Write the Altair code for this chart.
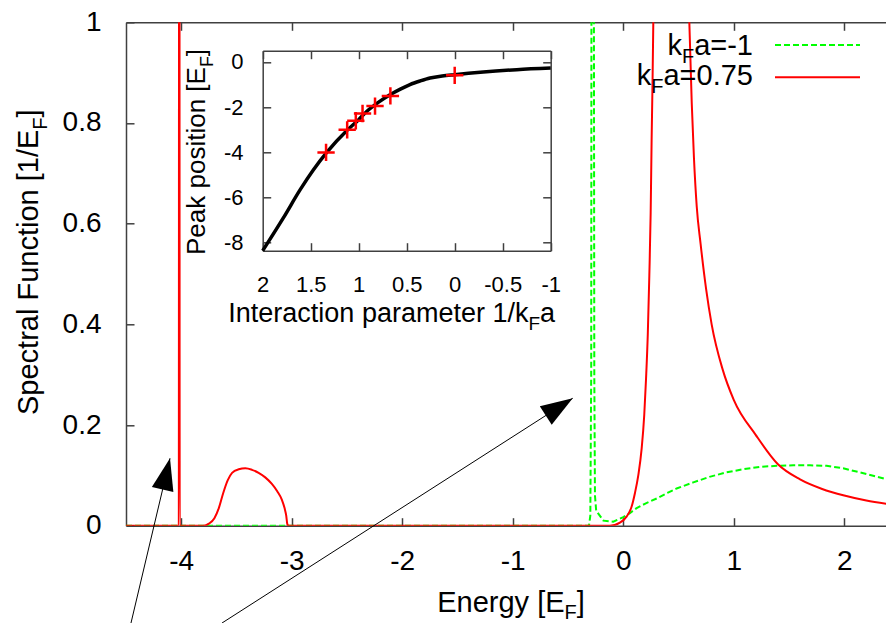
import math
import altair as alt
import pandas as pd

# ---------------- data ----------------
# main panel: spectral function, k_F a = 0.75 (red, solid)
E_red = [-4.5, -4.022, -4.018, -4.014, -3.80, -3.75, -3.70, -3.66, -3.62, -3.58,
         -3.54, -3.48, -3.42, -3.36, -3.30, -3.24, -3.18, -3.13, -3.09, -3.065,
         -3.05, -3.04, -3.03, -0.12, -0.03, 0.03, 0.076, 0.106, 0.136, 0.167,
         0.19, 0.206, 0.222, 0.236, 0.248, 0.257, 0.265, 0.272, 0.29, 0.43,
         0.57, 0.598, 0.62, 0.64, 0.665, 0.70, 0.75, 0.80, 0.90, 1.0,
         1.2, 1.4, 1.6, 1.8, 2.0, 2.2, 2.4]
A_red = [0, 0, 3.0, 0, 0.0, 0.004, 0.015, 0.035, 0.065, 0.09,
         0.105, 0.112, 0.114, 0.111, 0.105, 0.096, 0.083, 0.068, 0.052, 0.035,
         0.02, 0.003, 0, 0, 0.006, 0.018, 0.038, 0.065, 0.10, 0.154,
         0.22, 0.291, 0.38, 0.497, 0.62, 0.77, 0.88, 1.0, 1.5, 3.5,
         1.3, 1.0, 0.839, 0.73, 0.634, 0.56, 0.47, 0.40, 0.31, 0.25,
         0.18, 0.122, 0.092, 0.073, 0.060, 0.050, 0.043]
# k_F a = -1 (green, dashed)
E_green = [-4.5, -0.31, -0.298, -0.29, -0.285, -0.27, -0.262, -0.256, -0.245, -0.18,
           -0.09, 0.0, 0.06, 0.121, 0.2, 0.302, 0.4, 0.483, 0.634, 0.78,
           0.935, 1.08, 1.237, 1.39, 1.539, 1.69, 1.84, 1.99, 2.14, 2.3, 2.447]
A_green = [0, 0, 0.02, 0.3, 2.0, 2.0, 0.3, 0.06, 0.03, 0.01,
           0.008, 0.017, 0.025, 0.035, 0.044, 0.054, 0.065, 0.074, 0.086, 0.097,
           0.106, 0.112, 0.117, 0.119, 0.12, 0.12, 0.119, 0.114, 0.106, 0.097, 0.089]

# inset: peak position vs 1/k_F a
inv_kfa = [2.0, 1.785, 1.611, 1.473, 1.333, 1.115, 1.0, 0.917, 0.8, 0.674,
           0.566, 0.466, 0.36, 0.257, 0.13, 0.004, -0.298, -0.646, -1.0]
peak_pos = [-8.35, -6.9, -5.66, -4.78, -4.0, -3.0, -2.55, -2.19, -1.8, -1.45,
            -1.2, -1.0, -0.84, -0.71, -0.62, -0.56, -0.44, -0.34, -0.27]
mark_inv = [1.34, 1.12, 1.03, 0.96, 0.83, 0.67, 0.0]
mark_peak = [-4.0, -3.0, -2.6, -2.28, -1.95, -1.5, -0.59]

main_xticks = [-4, -3, -2, -1, 0, 1, 2]
main_yticks = [0, 0.2, 0.4, 0.6, 0.8, 1]
inset_xticks = [2, 1.5, 1, 0.5, 0, -0.5, -1]
inset_yticks = [0, -2, -4, -6, -8]

# annotation arrows (tail -> tip) in main-panel data units
arrow_E = [-4.4548, -3.6312]
arrow_A = [-0.1933, -0.1933]
arrow_E2 = [-4.1018, -0.4575]
arrow_A2 = [0.1339, 0.2531]

legend_tail = ["a=-1", "a=0.75"]

# ---------------- layout ----------------
FONT = "Liberation Sans"
AX = "#404040"
SX = 110.5                      # px per energy unit
W, H = 760.0, 503.4
PX0, PY0 = 126.0, 22.3          # page position of plot origin
XMIN = -4.5
XMAX = XMIN + W / SX
SY = H / 1.0
SVG_H = 615.0

AW = {' ': 278, '-': 333, '.': 278, '/': 278, '=': 584, '[': 278, ']': 278,
      'E': 667, 'F': 611, 'I': 278, 'P': 667, 'S': 667, 'a': 556, 'c': 500, 'e': 556,
      'g': 556, 'h': 556, 'i': 222, 'k': 500, 'l': 222, 'm': 833, 'n': 556, 'o': 556,
      'p': 556, 'r': 333, 's': 500, 't': 278, 'u': 556, 'y': 500}
for d in "0123456789":
    AW[d] = 556


def tw(s, size):
    return sum(AW.get(c, 556) for c in s) * size / 1000.0


def axis(orient, values, offset=0, labels=True, pad=0, size=28, baseline=None, tick=8):
    kw = dict(orient=orient, values=values, offset=offset, labels=labels,
              tickSize=alt.ExprRef(expr=f"-{tick}"), ticks=True, domain=True, grid=False,
              title=None, labelFlush=False, labelOverlap=False, labelBound=False,
              labelFont=FONT, labelFontSize=size, labelColor="black", labelPadding=pad,
              labelExpr="'' + datum.value", domainColor=AX, tickColor=AX,
              domainWidth=1.5, tickWidth=1.5)
    if baseline:
        kw["labelBaseline"] = baseline
    return alt.Axis(**kw)


mx = alt.Scale(domain=[XMIN, XMAX], nice=False, zero=False)
my = alt.Scale(domain=[0, 1], nice=False, zero=False)
ax_x = axis("bottom", main_xticks, pad=51.6, baseline="alphabetic")
ax_y = axis("left", main_yticks, pad=33)

# inset geometry (view coordinates)
IX0, IX1 = 262.7 - PX0, 550.7 - PX0
IY0, IY1 = 250.7 - PY0, 50.7 - PY0
ix = alt.Scale(domain=[-1, 2], range=[IX1, IX0], nice=False, zero=False)
iy = alt.Scale(domain=[-8.35, 0.5], range=[IY0, IY1], nice=False, zero=False)

df_red = pd.DataFrame({"E": E_red, "A": A_red})
df_green = pd.DataFrame({"E": E_green, "A": A_green})
df_arrow = pd.DataFrame({"E": arrow_E, "A": arrow_A, "E2": arrow_E2, "A2": arrow_A2})
angles = [math.degrees(math.atan2((e2 - e) * SX, (a2 - a) * SY))
          for e, a, e2, a2 in zip(arrow_E, arrow_A, arrow_E2, arrow_A2)]
df_tip = pd.DataFrame({"E": arrow_E2, "A": arrow_A2, "ang": angles})

green = alt.Chart(df_green).mark_line(clip=True, color="#00ff00", strokeWidth=2,
                                      strokeDash=[6, 3]).encode(
    x=alt.X("E:Q", scale=mx, axis=ax_x), y=alt.Y("A:Q", scale=my, axis=ax_y))
red = alt.Chart(df_red).mark_line(clip=True, color="#ff0000", strokeWidth=2,
                                  interpolate="monotone").encode(
    x=alt.X("E:Q", scale=mx, axis=ax_x), y=alt.Y("A:Q", scale=my, axis=ax_y))
arrows = alt.Chart(df_arrow).mark_rule(color="black", strokeWidth=1, clip=False).encode(
    x=alt.X("E:Q", scale=mx, axis=ax_x), y=alt.Y("A:Q", scale=my, axis=ax_y),
    x2="E2:Q", y2="A2:Q")
heads = alt.Chart(df_tip).mark_point(shape="M0,0L0.69,2L-0.69,2Z", filled=True, color="black",
                                     opacity=1, size=1024, clip=False).encode(
    x=alt.X("E:Q", scale=mx, axis=ax_x), y=alt.Y("A:Q", scale=my, axis=ax_y),
    angle=alt.Angle("ang:Q", scale=None))
main = alt.layer(green, red, arrows, heads)

mirror_top = alt.Chart(pd.DataFrame({"v": main_xticks})).mark_point(opacity=0).encode(
    x=alt.X("v:Q", scale=mx, axis=axis("top", main_xticks, labels=False)))

ax_ix = axis("bottom", inset_xticks, offset=IY0 - H, pad=49, size=22, baseline="alphabetic")
ax_iy = axis("left", inset_yticks, offset=-IX0, pad=27.7, size=22)
df_inset = pd.DataFrame({"k": inv_kfa, "p": peak_pos})
df_marks = pd.DataFrame({"k": mark_inv, "p": mark_peak})
inset_line = alt.Chart(df_inset).mark_line(color="black", strokeWidth=3.5,
                                           interpolate="monotone").encode(
    x=alt.X("k:Q", scale=ix, axis=ax_ix), y=alt.Y("p:Q", scale=iy, axis=ax_iy))
inset_marks = alt.Chart(df_marks).mark_point(shape="M-1,0L1,0M0,-1L0,1", filled=False,
                                             color="#ff0000", strokeWidth=2.5, size=300,
                                             opacity=1).encode(
    x=alt.X("k:Q", scale=ix, axis=ax_ix), y=alt.Y("p:Q", scale=iy, axis=ax_iy))
inset = alt.layer(inset_line, inset_marks)

inset_top = alt.Chart(pd.DataFrame({"v": inset_xticks})).mark_point(opacity=0).encode(
    x=alt.X("v:Q", scale=ix, axis=axis("top", inset_xticks, offset=-IY1, labels=False)))
inset_right = alt.Chart(pd.DataFrame({"v": inset_yticks})).mark_point(opacity=0).encode(
    y=alt.Y("v:Q", scale=iy, axis=axis("right", inset_yticks, offset=IX1 - W, labels=False)))

one = pd.DataFrame({"a": [0]})


def txt(s, x, y, size, angle=0, align="left"):
    return alt.Chart(one).mark_text(text=s, font=FONT, fontSize=size, angle=angle,
                                    align=align, baseline="alphabetic",
                                    color="black").encode(x=alt.value(x), y=alt.value(y))


texts = []
# main y title (rotated)
bx, by = 38 - PX0, 415 - PY0
s1 = "Spectral Function [1/E"
texts.append(txt(s1, bx, by, 29, 270))
y2 = by - tw(s1, 29)
texts.append(txt("F", bx + 9, y2, 20, 270))
texts.append(txt("]", bx, y2 - tw("F", 20), 29, 270))
# main x title
s1 = "Energy [E"
wtot = tw(s1, 29) + tw("F", 20) + tw("]", 29)
x0, yb = 511 - PX0 - wtot / 2, 612 - PY0
texts.append(txt(s1, x0, yb, 29))
texts.append(txt("F", x0 + tw(s1, 29), yb + 7, 20))
texts.append(txt("]", x0 + tw(s1, 29) + tw("F", 20), yb, 29))
# legend
for tail, yb in zip(legend_tail, [55 - PY0, 85 - PY0]):
    xr = 753 - PX0
    texts.append(txt(tail, xr, yb, 29, align="right"))
    xr -= tw(tail, 29)
    texts.append(txt("F", xr, yb + 8, 20, align="right"))
    xr -= tw("F", 20)
    texts.append(txt("k", xr, yb, 29, align="right"))
# inset x title
s1 = "Interaction parameter 1/k"
x0, yb = 228.3 - PX0, 321.7 - PY0
texts.append(txt(s1, x0, yb, 27))
texts.append(txt("F", x0 + tw(s1, 27), yb + 8, 19))
texts.append(txt("a", x0 + tw(s1, 27) + tw("F", 19), yb, 27))
# inset y title (rotated)
s1 = "Peak position [E"
bx, by = 205 - PX0, 255 - PY0
texts.append(txt(s1, bx, by, 26, 270))
y2 = by - tw(s1, 26)
texts.append(txt("F", bx + 8, y2, 18, 270))
texts.append(txt("]", bx, y2 - tw("F", 18), 26, 270))

leg_green = alt.Chart(one).mark_rule(color="#00ff00", strokeWidth=2, strokeDash=[6, 3]).encode(
    x=alt.value(775 - PX0), x2=alt.value(860 - PX0), y=alt.value(45 - PY0))
leg_red = alt.Chart(one).mark_rule(color="#ff0000", strokeWidth=2).encode(
    x=alt.value(775 - PX0), x2=alt.value(860 - PX0), y=alt.value(77.3 - PY0))

chart = alt.layer(main, mirror_top, inset, inset_top, inset_right,
                  leg_green, leg_red, *texts).resolve_scale(
    x="independent", y="independent").resolve_axis(
    x="independent", y="independent").properties(
    width=W, height=H,
    padding={"left": PX0 - 8, "top": PY0 - 8, "right": 0,
             "bottom": SVG_H - (PY0 - 8) - H},
    autosize=alt.AutoSizeParams(type="none"),
).configure_view(stroke=None)

chart.save("out.html", embed_options={"renderer": "svg", "actions": False})
